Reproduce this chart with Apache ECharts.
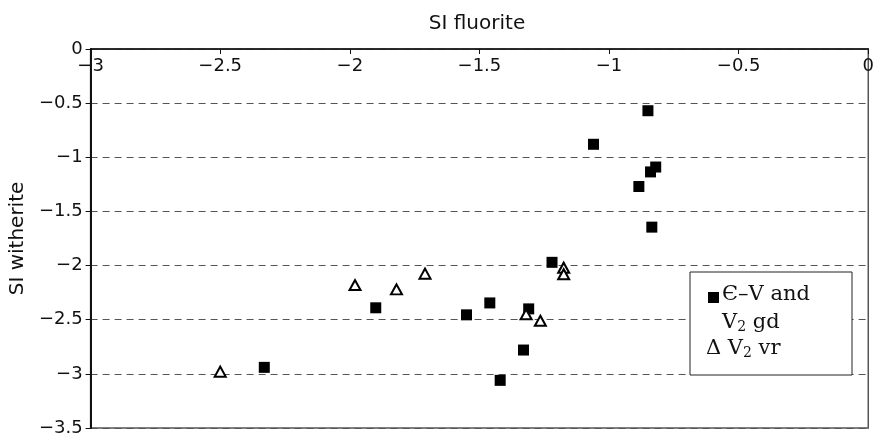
<!DOCTYPE html>
<html>
<head>
<meta charset="utf-8">
<script src="https://cdn.jsdelivr.net/npm/echarts@6/dist/echarts.min.js"></script>
<style>html,body{margin:0;padding:0;background:#fff}#c{width:877px;height:437px}</style>
</head>
<body>
<div id="c"></div>
<script>
// SI fluorite (x) vs SI witherite (y)
var gdX = [-2.33, -1.90, -1.55, -1.46, -1.42, -1.33, -1.31, -1.22, -1.06, -0.885, -0.85, -0.84, -0.82, -0.835];
var gdY = [-2.94, -2.39, -2.455, -2.345, -3.06, -2.78, -2.40, -1.97, -0.88, -1.27, -0.57, -1.135, -1.09, -1.645];
var vrX = [-2.50, -1.98, -1.82, -1.71, -1.32, -1.265, -1.175, -1.175];
var vrY = [-2.98, -2.18, -2.22, -2.075, -2.45, -2.51, -2.02, -2.08];
var xTicks = [-3, -2.5, -2, -1.5, -1, -0.5, 0];
var yTicks = [0, -0.5, -1, -1.5, -2, -2.5, -3, -3.5];
var seriesNames = ['Є–V and V2 gd', 'V2 vr'];

function pairs(xs, ys) { return xs.map(function (x, i) { return [x, ys[i]]; }); }
function fmt(v) { return String(v).replace('-', '\u2212'); }

var chart = echarts.init(document.getElementById('c'), null, { renderer: 'canvas' });
var sans = 'DejaVu Sans';
var serif = 'DejaVu Serif';
chart.setOption({
  animation: false,
  backgroundColor: '#fff',
  title: {
    text: 'SI fluorite', left: 472, top: 9, textAlign: 'center',
    textStyle: { fontFamily: sans, fontSize: 20, fontWeight: 'normal', color: '#111' }
  },
  grid: { left: 90, right: 5, top: 49, bottom: 4, show: true, borderColor: '#555', borderWidth: 1.5, backgroundColor: 'transparent' },
  xAxis: {
    type: 'value', position: 'top', min: xTicks[0], max: xTicks[xTicks.length - 1], interval: 0.5,
    axisLine: { show: true, onZero: false, lineStyle: { color: '#111', width: 1.5 } },
    axisTick: { show: true, inside: true, length: 5, lineStyle: { color: '#111' } },
    axisLabel: { inside: true, margin: 8, formatter: fmt, fontFamily: sans, fontSize: 18, color: '#111' },
    splitLine: { show: false }
  },
  yAxis: {
    type: 'value', min: yTicks[yTicks.length - 1], max: yTicks[0], interval: 0.5,
    name: 'SI witherite', nameLocation: 'middle', nameGap: 62,
    nameTextStyle: { fontFamily: sans, fontSize: 20, color: '#111' },
    axisLine: { show: true, onZero: false, lineStyle: { color: '#111', width: 2 } },
    axisTick: { show: true, inside: false, length: 5, lineStyle: { color: '#111' } },
    axisLabel: { margin: 8, formatter: fmt, fontFamily: sans, fontSize: 18, color: '#111' },
    splitLine: { show: true, lineStyle: { color: '#555', width: 1, type: [7, 5] } }
  },
  series: [
    {
      name: seriesNames[0], type: 'scatter', symbol: 'rect', symbolSize: 11,
      itemStyle: { color: '#000', opacity: 1 }, data: pairs(gdX, gdY), z: 3
    },
    {
      name: seriesNames[1], type: 'scatter', symbol: 'triangle', symbolSize: [11, 10],
      itemStyle: { color: '#fff', borderColor: '#000', borderWidth: 2, opacity: 1 }, data: pairs(vrX, vrY), z: 4
    }
  ],
  graphic: [
    { type: 'rect', shape: { x: 690, y: 272, width: 162, height: 103 }, style: { fill: '#fff', stroke: '#222', lineWidth: 1 }, z: 10 },
    { type: 'rect', shape: { x: 708, y: 292, width: 11, height: 11 }, style: { fill: '#000' }, z: 11 },
    { type: 'text', left: 722, top: 284, z: 11,
      style: { text: 'Є–V and', fontFamily: serif, fontSize: 21, fill: '#111' } },
    { type: 'text', left: 722, top: 312, z: 11,
      style: { text: 'V{s|2} gd', fontFamily: serif, fontSize: 21, fill: '#111',
        rich: { s: { fontFamily: serif, fontSize: 14, verticalAlign: 'bottom', padding: [9, 0, 0, 0], fill: '#111' } } } },
    { type: 'text', left: 706, top: 338, z: 11,
      style: { text: 'Δ V{s|2} vr', fontFamily: serif, fontSize: 21, fill: '#111',
        rich: { s: { fontFamily: serif, fontSize: 14, verticalAlign: 'bottom', padding: [9, 0, 0, 0], fill: '#111' } } } }
  ]
});
</script>
</body>
</html>
